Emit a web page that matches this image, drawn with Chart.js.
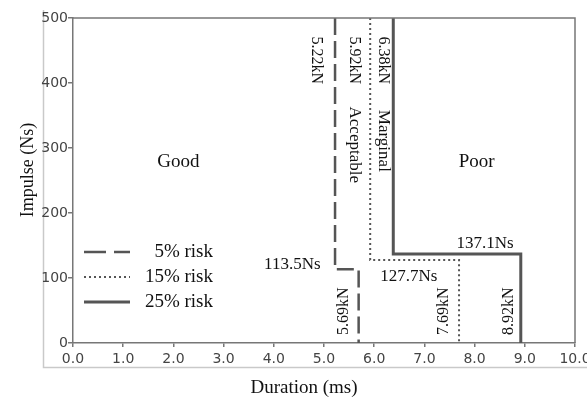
<!DOCTYPE html>
<html>
<head>
<meta charset="utf-8">
<script src="https://cdn.jsdelivr.net/npm/chart.js@4/dist/chart.umd.min.js"></script>
<style>
html,body{margin:0;padding:0;background:#fff;}
#wrap{width:587px;height:400px;position:relative;}
</style>
</head>
<body>
<div id="wrap"><canvas id="c" width="587" height="400"></canvas></div>
<script>
// ---- data ----
const riskLabels = ['5% risk', '15% risk', '25% risk'];
const upperForce = [5.22, 5.92, 6.38];       // duration (ms) of upper vertical segment
const impulseLimit = [113.5, 127.7, 137.1];  // impulse (Ns) of horizontal step
const lowerForce = [5.69, 7.69, 8.92];       // duration (ms) of lower vertical segment
const impulseTop = 500;
const impulseBottom = 0;
const xTicks = [0, 1, 2, 3, 4, 5, 6, 7, 8, 9, 10];
const yTicks = [0, 100, 200, 300, 400, 500];
const zoneLabels = ['Good', 'Acceptable', 'Marginal', 'Poor'];

const dashStyles = [[17, 6], [2, 3], []];
const legendDash = [[22, 8], [2, 3], []];
const widths = [2.5, 2, 3];

const datasets = riskLabels.map((lab, i) => ({
  label: lab,
  data: [
    {x: upperForce[i], y: impulseTop},
    {x: upperForce[i], y: impulseLimit[i]},
    {x: lowerForce[i], y: impulseLimit[i]},
    {x: lowerForce[i], y: impulseBottom}
  ],
  showLine: true,
  borderColor: '#555',
  borderWidth: widths[i],
  borderDash: dashStyles[i],
  pointRadius: 0,
  fill: false,
  tension: 0
}));

function txt(ctx, s, x, y, rot, font, align) {
  ctx.save();
  ctx.translate(x, y);
  ctx.rotate(rot);
  ctx.font = font;
  ctx.textAlign = align || 'center';
  ctx.textBaseline = 'middle';
  ctx.fillStyle = '#111';
  ctx.fillText(s, 0, 0);
  ctx.restore();
}

const decor = {
  id: 'decor',
  beforeDraw(chart) {
    const ctx = chart.ctx;
    ctx.save();
    ctx.strokeStyle = '#c9c9c9';
    ctx.lineWidth = 1.5;
    ctx.beginPath();
    ctx.moveTo(43.5, 10);
    ctx.lineTo(43.5, 367.5);
    ctx.lineTo(587, 367.5);
    ctx.stroke();
    ctx.restore();
  },
  afterDatasetsDraw(chart) {
    const ctx = chart.ctx;
    const a = chart.chartArea;
    const xs = chart.scales.x, ys = chart.scales.y;
    const X = v => xs.getPixelForValue(v), Y = v => ys.getPixelForValue(v);
    ctx.save();
    // top and right frame of plot
    ctx.strokeStyle = '#777';
    ctx.lineWidth = 1.5;
    ctx.beginPath();
    ctx.moveTo(a.left, a.top);
    ctx.lineTo(a.right, a.top);
    ctx.lineTo(a.right, a.bottom);
    ctx.stroke();
    ctx.restore();

    const f16 = '16px "Liberation Serif"';
    const f17 = '17px "Liberation Serif"';
    const f19 = '19px "Liberation Serif"';
    const up = Math.PI / 2;
    // upper force labels (rotated, reading downward)
    const upX = [4.85, 5.61, 6.17];
    upperForce.forEach((v, i) => txt(ctx, v.toFixed(2) + 'kN', X(upX[i]), Y(435), up, f16));
    // lower force labels (rotated, reading upward)
    const loX = [5.39, 7.39, 8.68];
    lowerForce.forEach((v, i) => txt(ctx, v.toFixed(2) + 'kN', X(loX[i]), Y(49), -up, f16));
    // impulse labels
    const impPos = [[4.37, 120], [6.69, 102], [8.21, 153]];
    impulseLimit.forEach((v, i) => txt(ctx, v.toFixed(1) + 'Ns', X(impPos[i][0]), Y(impPos[i][1]), 0, f17));
    // zones
    txt(ctx, zoneLabels[0], X(2.10), Y(278), 0, f19);
    txt(ctx, zoneLabels[1], X(5.61), Y(305), up, f17);
    txt(ctx, zoneLabels[2], X(6.19), Y(311), up, f17);
    txt(ctx, zoneLabels[3], X(8.04), Y(278), 0, f19);

    // legend
    const legY = [252, 277, 302];
    chart.data.datasets.forEach((ds, i) => {
      ctx.save();
      ctx.strokeStyle = ds.borderColor;
      ctx.lineWidth = ds.borderWidth;
      ctx.setLineDash(legendDash[i]);
      ctx.beginPath();
      ctx.moveTo(84, legY[i]);
      ctx.lineTo(130, legY[i]);
      ctx.stroke();
      ctx.restore();
      txt(ctx, ds.label, 213, legY[i], 0, f19, 'right');
    });

    // axis titles
    txt(ctx, 'Impulse (Ns)', 28, 170, -up, '18px "Liberation Serif"');
    txt(ctx, 'Duration (ms)', 304, 388, 0, '19px "Liberation Serif"');
  }
};

new Chart(document.getElementById('c'), {
  type: 'scatter',
  data: {datasets},
  options: {
    responsive: false,
    animation: false,
    layout: {padding: {left: 0, top: 18, right: 12, bottom: 0}},
    plugins: {legend: {display: false}, tooltip: {enabled: false}},
    scales: {
      x: {
        type: 'linear', min: 0, max: 10,
        afterBuildTicks: s => { s.ticks = xTicks.map(v => ({value: v})); },
        afterFit: s => { s.height = 57; s.paddingLeft = 0; s.paddingRight = 0; },
        grid: {drawOnChartArea: false, drawTicks: true, tickLength: 4, color: '#777', lineWidth: 1.5},
        border: {color: '#777', width: 1.5},
        ticks: {color: '#444', padding: 4, maxRotation: 0, autoSkip: false,
          font: {family: 'DejaVu Sans', size: 14},
          callback: v => Number(v).toFixed(1)}
      },
      y: {
        type: 'linear', min: 0, max: 500,
        afterBuildTicks: s => { s.ticks = yTicks.map(v => ({value: v})); },
        afterFit: s => { s.width = 73; s.paddingTop = 0; s.paddingBottom = 0; },
        grid: {drawOnChartArea: false, drawTicks: true, tickLength: 5, color: '#777', lineWidth: 1.5},
        border: {color: '#777', width: 1.5},
        ticks: {color: '#444', padding: 0, autoSkip: false,
          font: {family: 'DejaVu Sans', size: 14},
          callback: v => String(v)}
      }
    }
  },
  plugins: [decor]
});
</script>
</body>
</html>
